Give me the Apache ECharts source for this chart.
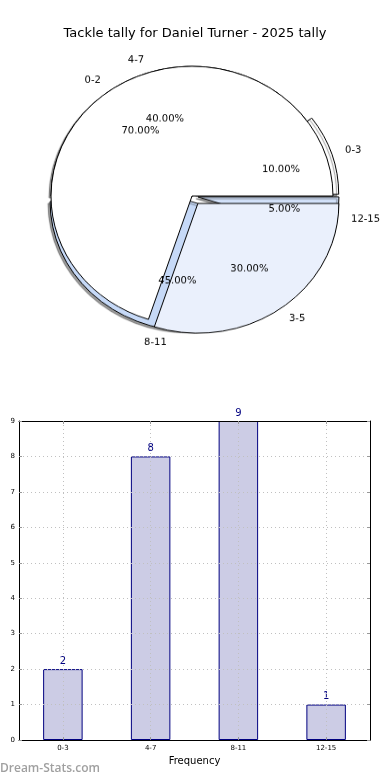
<!DOCTYPE html>
<html>
<head>
<meta charset="utf-8">
<script src="https://cdn.jsdelivr.net/npm/echarts@6/dist/echarts.min.js"></script>
<style>
html,body{margin:0;padding:0;background:#fff}
#wrap{position:relative;width:390px;height:780px}
#c{position:absolute;left:0;top:0;width:390px;height:780px}
#p{position:absolute;left:0;top:0;width:390px;height:390px;transform:scaleY(0.92);transform-origin:0 196px}
</style>
</head>
<body>
<div id="wrap"><div id="c"></div><div id="p"></div></div>
<script>
// ---- data ----
const title = 'Tackle tally for Daniel Turner - 2025 tally';
const tallyCats = ['0-3', '4-7', '8-11', '12-15'];
const tallyVals = [2, 8, 9, 1];
const tallyExploded = [true, false, true, true];
const splitCats = ['0-2', '3-5'];
const splitVals = [7, 3];
const splitExploded = [false, true];
const yTicks = [0, 1, 2, 3, 4, 5, 6, 7, 8, 9];
const xName = 'Frequency';
const yName = 'Stat intervals';
const watermark = 'Dream-Stats.com';

// ---- style ----
const FONT = 'DejaVu Sans';
const tallyColors = ['#ffffff', '#ffffff', '#c6d9f7', '#d3e2fa'];
const splitColors = ['#ffffff', '#eaf0fc'];
const CX = 192, CY = 196, R = 141;

function pieData(cats, vals, colors, exploded) {
  return cats.map((c, i) => ({
    name: c, value: vals[i], selected: exploded[i],
    itemStyle: { color: colors[i] }
  }));
}
const pctFmt = p => p.percent.toFixed(2) + '%';
const baseLabel = { fontFamily: FONT, fontSize: 10, color: '#000' };

function mainPie(cats, vals, colors, exploded, offset, shadow) {
  return {
    type: 'pie', center: [CX, CY], radius: [0, R],
    startAngle: 0, clockwise: false,
    selectedMode: 'multiple', selectedOffset: offset,
    avoidLabelOverlap: false, silent: true, animation: false,
    emphasis: { disabled: true },
    itemStyle: Object.assign({ borderColor: '#000', borderWidth: 1 }, shadow ? {
      shadowColor: 'rgba(0,0,0,0.4)', shadowBlur: 1, shadowOffsetX: -2, shadowOffsetY: 2
    } : {}),
    select: { itemStyle: { borderColor: '#000', borderWidth: 1 } },
    label: Object.assign({ show: true, position: 'outside', formatter: '{b}', distanceToLabelLine: 0 }, baseLabel),
    labelLine: { show: false, length: 14, length2: 0 },
    data: pieData(cats, vals, colors, exploded)
  };
}
function pctPie(cats, vals, exploded, offset) {
  return {
    type: 'pie', center: [CX, CY], radius: [R * 0.2, R],
    startAngle: 0, clockwise: false,
    selectedMode: 'multiple', selectedOffset: offset,
    avoidLabelOverlap: false, silent: true, animation: false,
    emphasis: { disabled: true },
    itemStyle: { color: 'rgba(0,0,0,0)', borderWidth: 0 },
    select: { itemStyle: { color: 'rgba(0,0,0,0)', borderWidth: 0 } },
    label: Object.assign({ show: true, position: 'inside', formatter: pctFmt }, baseLabel),
    labelLine: { show: false },
    data: cats.map((c, i) => ({ name: c, value: vals[i], selected: exploded[i] }))
  };
}

const pie = echarts.init(document.getElementById('p'), null, { renderer: 'canvas' });
pie.setOption({
  animation: false,
  series: [
    mainPie(tallyCats, tallyVals, tallyColors, tallyExploded, 6, true),
    pctPie(tallyCats, tallyVals, tallyExploded, 6),
    mainPie(splitCats, splitVals, splitColors, splitExploded, 10, false),
    pctPie(splitCats, splitVals, splitExploded, 10)
  ]
});

const gridLine = { show: true, lineStyle: { color: '#c0c0c0', type: [1, 3], width: 1 } };
const chart = echarts.init(document.getElementById('c'), null, { renderer: 'canvas' });
chart.setOption({
  backgroundColor: '#fff',
  animation: false,
  title: {
    text: title, left: 'center', top: 22,
    textStyle: { fontFamily: FONT, fontSize: 13, fontWeight: 'normal', color: '#000' }
  },
  graphic: [{
    type: 'text', left: 0, top: 763,
    style: { text: watermark, fontFamily: 'Open Sans', fontSize: 12, fontWeight: 600, fill: '#a0a0a0' }
  }],
  grid: { left: 19, right: 20, top: 421, bottom: 40, show: false,
          containLabel: false, outerBoundsMode: 'none' },
  xAxis: [{
    type: 'category', data: tallyCats, position: 'bottom', z: 5,
    name: xName, nameLocation: 'middle', nameGap: 16,
    nameTextStyle: { fontFamily: FONT, fontSize: 10, color: '#000' },
    axisLine: { show: true, onZero: false, lineStyle: { color: '#000', width: 1 } },
    axisTick: { show: true, inside: true, alignWithLabel: true, length: 3, lineStyle: { color: '#999' } },
    axisLabel: { fontFamily: FONT, fontSize: 7, color: '#000', margin: 5 },
    splitLine: Object.assign({ alignWithLabel: true }, gridLine)
  }, {
    type: 'category', data: tallyCats, position: 'top', z: 5,
    axisLine: { show: true, onZero: false, lineStyle: { color: '#000', width: 1 } },
    axisTick: { show: true, inside: true, alignWithLabel: true, length: 3, lineStyle: { color: '#999' } },
    axisLabel: { show: false }, splitLine: { show: false }
  }],
  yAxis: [{
    type: 'value', min: 0, max: 9, interval: 1, position: 'left', z: 5,
    name: yName, nameLocation: 'middle', nameGap: 10, nameRotate: 90,
    nameTextStyle: { fontFamily: FONT, fontSize: 10, color: '#000' },
    axisLine: { show: true, onZero: false, lineStyle: { color: '#000', width: 1 } },
    axisTick: { show: true, inside: true, length: 3, lineStyle: { color: '#999' } },
    axisLabel: { fontFamily: FONT, fontSize: 7, color: '#000', margin: 4,
      formatter: v => yTicks.includes(v) ? String(v) : '' },
    splitLine: gridLine
  }, {
    type: 'value', min: 0, max: 9, interval: 1, position: 'right', z: 5,
    axisLine: { show: true, onZero: false, lineStyle: { color: '#000', width: 1 } },
    axisTick: { show: true, inside: true, length: 3, lineStyle: { color: '#999' } },
    axisLabel: { show: false }, splitLine: { show: false }
  }],
  series: [{
    type: 'bar', xAxisIndex: 0, yAxisIndex: 0, data: tallyVals, barWidth: '45%',
    silent: true, z: 2,
    itemStyle: { color: 'rgb(204,204,229)', borderColor: '#000080', borderWidth: 1 },
    label: { show: true, position: 'top', distance: 3, fontFamily: FONT, fontSize: 10, color: '#000080' }
  }]
});
</script>
</body>
</html>
